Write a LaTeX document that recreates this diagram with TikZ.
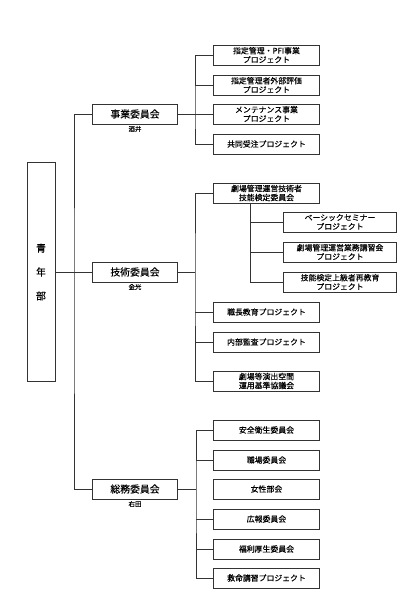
\documentclass[tikz,border=0pt]{standalone}
\usepackage{fontspec}
\newfontfamily\jp[FakeBold=0.3]{Noto Sans CJK JP}
\begin{document}
\begin{tikzpicture}[
        x=0.025cm, y=-0.025cm,
        line width=0.6pt,
        draw=black!80,
        rootbox/.style={
            rectangle,
            draw=black!80,
            line width=0.7pt,
            align=center,
            minimum width=0.7cm,
            minimum height=5.45cm,
            inner sep=0pt,
            font=\jp\fontsize{7}{17}\selectfont
        },
        cmtbox/.style={
            rectangle,
            draw=black!80,
            line width=0.7pt,
            minimum width=2.1cm,
            minimum height=0.5cm,
            inner sep=0pt,
            font=\jp\fontsize{7}{8}\selectfont
        },
        projbox/.style={
            rectangle,
            draw=black!80,
            line width=0.7pt,
            align=center,
            minimum width=2.625cm,
            minimum height=0.5cm,
            inner sep=0pt,
            font=\jp\fontsize{5.6}{6.4}\selectfont
        },
        subbox/.style={
            projbox,
            minimum width=2.8cm
        },
        chief/.style={
            inner sep=0pt,
            font=\jp\fontsize{4.6}{5}\selectfont
        }
    ]
        \useasboundingbox (0,0) rectangle (413,609);

        % Head
        \node[rootbox] (sn) at (41,272) {青\\年\\部};

        % Committees
        \node[cmtbox] (jg) at (135,114) {事業委員会};
        \node[chief] at (135,129) {酒井};
        \node[cmtbox] (gj) at (135,272) {技術委員会};
        \node[chief] at (135,287) {金光};
        \node[cmtbox] (sm) at (135,489) {総務委員会};
        \node[chief] at (135,504) {右田};

        \coordinate (trunk) at (74,300);
        \draw (jg.west) -| (trunk) |- (sm.west);
        \draw (sn.east) -- (gj.west);

        % Jigyo projects
        \node[projbox] (jg1) at (266.5,55) {指定管理・PFI事業\\プロジェクト};
        \node[projbox] (jg2) at (266.5,85) {指定管理者外部評価\\プロジェクト};
        \node[projbox] (jg3) at (266.5,114) {メンテナンス事業\\プロジェクト};
        \node[projbox] (jg4) at (266.5,144) {共同受注プロジェクト};

        \coordinate (jgbus) at (195,114);
        \draw (jg.east) -- (jgbus);
        \draw (jg1.west) -| (jgbus) |- (jg4.west);
        \draw (jg2.west) -- (jg2.west -| jgbus);
        \draw (jg3.west) -- (jg3.west -| jgbus);

        % Gijutsu projects
        \node[projbox] (gj1) at (266.5,193) {劇場管理運営技術者\\技能検定委員会};
        \node[projbox] (gj2) at (266.5,312) {職長教育プロジェクト};
        \node[projbox] (gj3) at (266.5,342) {内部監査プロジェクト};
        \node[projbox] (gj4) at (266.5,381) {劇場等演出空間\\運用基準協議会};

        \coordinate (gjbus) at (195,272);
        \draw (gj.east) -- (gjbus);
        \draw (gj1.west) -| (gjbus) |- (gj4.west);
        \draw (gj2.west) -- (gj2.west -| gjbus);
        \draw (gj3.west) -- (gj3.west -| gjbus);

        % Kentei sub projects
        \node[subbox] (kt1) at (340,222) {ベーシックセミナー\\プロジェクト};
        \node[subbox] (kt2) at (340,252) {劇場管理運営業務講習会\\プロジェクト};
        \node[subbox] (kt3) at (340,282) {技能検定上級者再教育\\プロジェクト};

        \coordinate (ktbus) at (250,203);
        \draw (ktbus) |- (kt3.west);
        \draw (kt1.west) -- (kt1.west -| ktbus);
        \draw (kt2.west) -- (kt2.west -| ktbus);

        % Somu projects
        \node[projbox] (sm1) at (266.5,430) {安全衛生委員会};
        \node[projbox] (sm2) at (266.5,460) {職場委員会};
        \node[projbox] (sm3) at (266.5,489) {女性部会};
        \node[projbox] (sm4) at (266.5,519) {広報委員会};
        \node[projbox] (sm5) at (266.5,549) {福利厚生委員会};
        \node[projbox] (sm6) at (266.5,578) {救命講習プロジェクト};

        \coordinate (smbus) at (196,489);
        \draw (sm.east) -- (smbus);
        \draw (sm1.west) -| (smbus) |- (sm6.west);
        \draw (sm2.west) -- (sm2.west -| smbus);
        \draw (sm4.west) -- (sm4.west -| smbus);
        \draw (sm5.west) -- (sm5.west -| smbus);

    \end{tikzpicture}
\end{document}
